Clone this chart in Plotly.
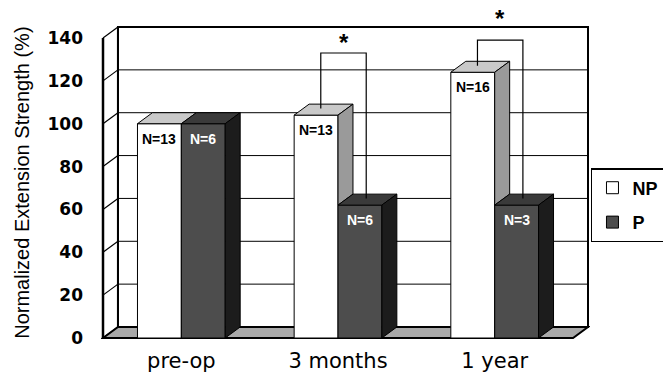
import plotly.graph_objects as go

# ---------------- data ----------------
categories = ["pre-op", "3 months", "1 year"]
np_values = [100, 104, 124]
p_values = [100, 62, 62]
np_labels = ["N=13", "N=13", "N=16"]
p_labels = ["N=6", "N=6", "N=3"]
y_ticks = [0, 20, 40, 60, 80, 100, 120, 140]
sig_index = [1, 2]          # categories with a significance bracket
bracket_tops = [133, 139]

# ---------------- geometry / style ----------------
PXX = 157.0        # px per category unit
PXY = 2.143        # px per value unit
DX = 15 / PXX      # 3D depth offset (x)
DY = 11 / PXY      # 3D depth offset (y)
W = 0.28           # bar width (category units)
X0, X1 = -0.5, len(categories) - 0.5
YMAX = y_ticks[-1]
PADX = 2 / PXX
PADY = 2 / PXY
STAR_SHIFT = [11, 22]   # px above bracket

NP_FRONT, NP_TOP, NP_SIDE = "#ffffff", "#c9c9c9", "#9a9a9a"
P_FRONT, P_TOP, P_SIDE = "#4d4d4d", "#3a3a3a", "#1c1c1c"
FLOOR = "#a9a9a9"

xs = list(range(len(categories)))

fig = go.Figure()

fig.add_trace(go.Bar(
    x=xs, y=np_values, offset=-W, width=W, name="NP",
    marker=dict(color=NP_FRONT, line=dict(color="black", width=1)),
    legendgroup="a",
))
fig.add_trace(go.Bar(
    x=xs, y=p_values, offset=0, width=W, name="P",
    marker=dict(color=P_FRONT, line=dict(color="black", width=1)),
    legendgroup="b",
))


def face(px, py, color):
    fig.add_trace(go.Scatter(
        x=px + [px[0]], y=py + [py[0]], mode="lines", fill="toself",
        fillcolor=color, line=dict(color="black", width=1),
        showlegend=False, hoverinfo="skip",
    ))


for i, c in enumerate(xs):
    v, p = np_values[i], p_values[i]
    xl, xr = c - W, c
    face([xl, xr, xr + DX, xl + DX], [v, v, v + DY, v + DY], NP_TOP)
    if v > p:
        face([xr, xr + DX, xr + DX, xr], [p, p + DY, v + DY, v], NP_SIDE)
    xl, xr = c, c + W
    face([xl, xr, xr + DX, xl + DX], [p, p, p + DY, p + DY], P_TOP)
    face([xr, xr + DX, xr + DX, xr], [0, DY, p + DY, p], P_SIDE)

# significance brackets
for k, idx in enumerate(sig_index):
    lx, rx = idx - 0.11, idx + 0.18
    top = bracket_tops[k]
    fig.add_trace(go.Scatter(
        x=[lx, lx, rx, rx],
        y=[np_values[idx] + DY * 0.6, top, top, p_values[idx] + DY * 0.6],
        mode="lines", line=dict(color="black", width=1.2),
        showlegend=False, hoverinfo="skip",
    ))

shapes = []
shapes.append(dict(type="rect", x0=X0 + DX, x1=X1 + DX, y0=DY, y1=YMAX + DY,
                   fillcolor="white", line=dict(color="black", width=2), layer="below"))
for t in y_ticks[1:-1]:
    shapes.append(dict(type="line", x0=X0 + DX, x1=X1 + DX, y0=t + DY, y1=t + DY,
                       line=dict(color="black", width=1), layer="below"))
for t in y_ticks:
    shapes.append(dict(type="line", x0=X0, x1=X0 + DX, y0=t, y1=t + DY,
                       line=dict(color="black", width=1.2), layer="below"))
shapes.append(dict(type="line", x0=X0, x1=X0, y0=0, y1=YMAX,
                   line=dict(color="black", width=2.5), layer="below"))
shapes.append(dict(type="line", x0=X0 + DX, x1=X0 + DX, y0=DY, y1=YMAX + DY,
                   line=dict(color="black", width=2), layer="below"))
shapes.append(dict(type="path",
                   path=f"M{X0},0 L{X1},0 L{X1 + DX},{DY} L{X0 + DX},{DY} Z",
                   fillcolor=FLOOR, line=dict(color="black", width=2), layer="below"))

annotations = []
for i, c in enumerate(xs):
    annotations.append(dict(x=c - W / 2, y=np_values[i], xref="x", yref="y",
                            text=np_labels[i], showarrow=False, yanchor="top", yshift=-5,
                            font=dict(family="Arial", size=14, color="black", weight="bold")))
    annotations.append(dict(x=c + W / 2, y=p_values[i], xref="x", yref="y",
                            text=p_labels[i], showarrow=False, yanchor="top", yshift=-5,
                            font=dict(family="Arial", size=14, color="white", weight="bold")))
for k, idx in enumerate(sig_index):
    annotations.append(dict(x=idx + 0.035, y=bracket_tops[k], xref="x", yref="y",
                            text="*", showarrow=False, yshift=STAR_SHIFT[k],
                            font=dict(family="Arial", size=24, color="black", weight="bold")))
annotations.append(dict(x=-0.163, y=0.5, xref="paper", yref="paper",
                        xanchor="center", yanchor="middle",
                        text="Normalized Extension Strength (%)", textangle=-90,
                        showarrow=False,
                        font=dict(family="Arial", size=20, color="black")))

fig.update_layout(
    width=663, height=372,
    margin=dict(l=101, r=73, t=25, b=32, autoexpand=False),
    paper_bgcolor="white", plot_bgcolor="white",
    barmode="overlay",
    shapes=shapes, annotations=annotations,
    xaxis=dict(range=[X0 - PADX, X1 + DX + PADX], tickvals=xs, ticktext=categories,
               showgrid=False, zeroline=False, showline=False, ticks="",
               ticklabelstandoff=6, automargin=False,
               tickfont=dict(family="DejaVu Sans", size=21, color="black")),
    yaxis=dict(range=[-PADY, YMAX + DY + PADY], tickvals=y_ticks,
               showgrid=False, zeroline=False, showline=False, ticks="",
               ticklabelstandoff=17, automargin=False,
               tickfont=dict(family="DejaVu Sans", size=17, color="black", weight="bold")),
    legend=dict(x=1.002, y=0.546, xanchor="left", yanchor="top",
                bordercolor="black", borderwidth=1.5, bgcolor="white",
                tracegroupgap=8, itemwidth=30,
                font=dict(family="Arial", size=18, color="black", weight="bold")),
    showlegend=True,
)

fig.write_html("out.html")
